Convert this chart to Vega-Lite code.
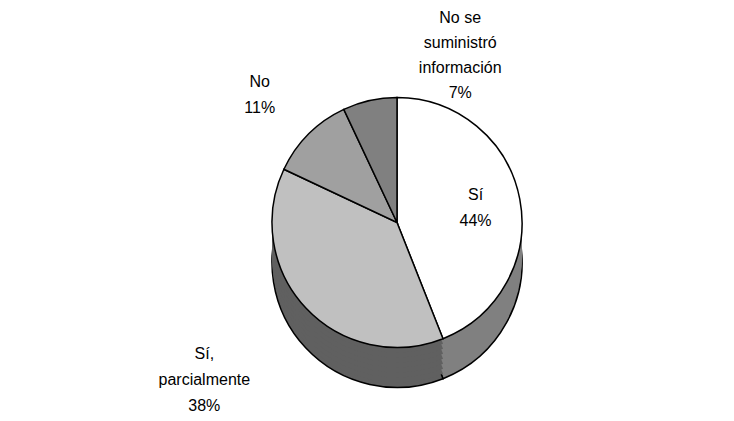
{
  "$schema": "https://vega.github.io/schema/vega-lite/v6.json",
  "width": 734,
  "height": 421,
  "autosize": {"type": "none"},
  "padding": 0,
  "background": "white",
  "view": {"stroke": null},
  "config": {"font": "Liberation Sans"},
  "data": {
    "values": [
      {"orden": 1, "categoria": "Sí", "porcentaje": 44, "etiqueta": "Sí\n44%"},
      {"orden": 2, "categoria": "Sí, parcialmente", "porcentaje": 38, "etiqueta": "Sí,\nparcialmente\n38%"},
      {"orden": 3, "categoria": "No", "porcentaje": 11, "etiqueta": "No\n11%"},
      {"orden": 4, "categoria": "No se suministró información", "porcentaje": 7, "etiqueta": "No se\nsuministró\ninformación\n7%"}
    ]
  },
  "encoding": {
    "theta": {"field": "porcentaje", "type": "quantitative", "stack": true},
    "order": {"field": "orden", "type": "quantitative"}
  },
  "layer": [
    {
      "mark": {"type": "arc", "outerRadius": 125, "xOffset": 30, "yOffset": 52, "stroke": "black", "strokeWidth": 1.5},
      "encoding": {"fill": {"field": "categoria", "type": "nominal", "scale": {"domain": ["Sí", "Sí, parcialmente", "No", "No se suministró información"], "range": ["#808080", "#606060", "#505050", "#404040"]}, "legend": null}}
    },
    {"mark": {"type": "arc", "outerRadius": 125, "xOffset": 30, "yOffset": 47}, "encoding": {"fill": {"field": "categoria", "type": "nominal", "legend": null}}},
    {"mark": {"type": "arc", "outerRadius": 125, "xOffset": 30, "yOffset": 42}, "encoding": {"fill": {"field": "categoria", "type": "nominal", "legend": null}}},
    {"mark": {"type": "arc", "outerRadius": 125, "xOffset": 30, "yOffset": 37}, "encoding": {"fill": {"field": "categoria", "type": "nominal", "legend": null}}},
    {"mark": {"type": "arc", "outerRadius": 125, "xOffset": 30, "yOffset": 32}, "encoding": {"fill": {"field": "categoria", "type": "nominal", "legend": null}}},
    {"mark": {"type": "arc", "outerRadius": 125, "xOffset": 30, "yOffset": 27}, "encoding": {"fill": {"field": "categoria", "type": "nominal", "legend": null}}},
    {"mark": {"type": "arc", "outerRadius": 125, "xOffset": 30, "yOffset": 22}, "encoding": {"fill": {"field": "categoria", "type": "nominal", "legend": null}}},
    {"mark": {"type": "arc", "outerRadius": 125, "xOffset": 30, "yOffset": 17}, "encoding": {"fill": {"field": "categoria", "type": "nominal", "legend": null}}},
    {
      "mark": {"type": "arc", "outerRadius": 125, "xOffset": 30, "yOffset": 12, "stroke": "black", "strokeWidth": 1.5},
      "encoding": {"color": {"field": "categoria", "type": "nominal", "scale": {"domain": ["Sí", "Sí, parcialmente", "No", "No se suministró información"], "range": ["#ffffff", "#c0c0c0", "#a0a0a0", "#808080"]}, "legend": null}}
    },
    {
      "mark": {"type": "text", "radius": 80, "xOffset": 30, "yOffset": -1, "fontSize": 16, "lineHeight": 26, "lineBreak": "\n", "baseline": "middle", "align": "center", "color": "black"},
      "encoding": {"text": {"condition": {"test": "datum.orden === 1", "field": "etiqueta"}, "value": ""}}
    },
    {
      "mark": {"type": "text", "radius": 230, "xOffset": 5, "yOffset": -14, "fontSize": 16, "lineHeight": 26, "lineBreak": "\n", "baseline": "middle", "align": "center", "color": "black"},
      "encoding": {"text": {"condition": {"test": "datum.orden === 2", "field": "etiqueta"}, "value": ""}}
    },
    {
      "mark": {"type": "text", "radius": 180, "xOffset": 20, "yOffset": -1, "fontSize": 16, "lineHeight": 26, "lineBreak": "\n", "baseline": "middle", "align": "center", "color": "black"},
      "encoding": {"text": {"condition": {"test": "datum.orden === 3", "field": "etiqueta"}, "value": ""}}
    },
    {
      "mark": {"type": "text", "radius": 210, "xOffset": 139, "yOffset": 12, "fontSize": 16, "lineHeight": 25, "lineBreak": "\n", "baseline": "middle", "align": "center", "color": "black"},
      "encoding": {"text": {"condition": {"test": "datum.orden === 4", "field": "etiqueta"}, "value": ""}}
    }
  ]
}
